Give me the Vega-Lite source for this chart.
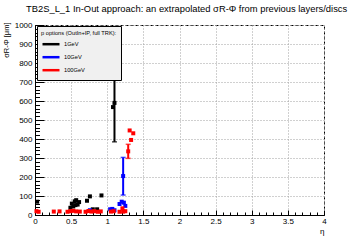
{
  "$schema": "https://vega.github.io/schema/vega-lite/v6.json",
  "width": 289,
  "height": 190,
  "autosize": {"type": "none"},
  "padding": {"left": 35, "top": 25, "right": 36, "bottom": 25},
  "background": "white",
  "config": {
    "font": "Liberation Sans",
    "view": {"stroke": "#000", "strokeDash": [3, 2], "strokeWidth": 1},
    "axis": {
      "domainColor": "#000", "domainWidth": 1, "tickColor": "#000", "tickWidth": 1,
      "labelColor": "#000", "titleColor": "#000", "gridColor": "#a0a0a0", "gridDash": [1, 2],
      "labelFont": "Liberation Sans", "titleFont": "Liberation Sans", "labelFontSize": 8,
      "titleFontWeight": "normal", "labelFlush": false, "labelOverlap": false, "labelBound": false
    }
  },
  "title": {
    "text": "TB2S_L_1 In-Out approach: an extrapolated σR-Φ from previous layers/discs",
    "fontSize": 9.4, "font": "Liberation Sans", "fontWeight": "normal", "color": "#000",
    "anchor": "start", "dx": -9, "offset": 0, "baseline": "alphabetic", "frame": "group"
  },
  "data": {
    "values": [
      {"series": "1GeV", "eta": 0.03, "val": 70},
      {"series": "1GeV", "eta": 0.49, "val": 38},
      {"series": "1GeV", "eta": 0.51, "val": 60},
      {"series": "1GeV", "eta": 0.53, "val": 45},
      {"series": "1GeV", "eta": 0.55, "val": 72},
      {"series": "1GeV", "eta": 0.56, "val": 52},
      {"series": "1GeV", "eta": 0.57, "val": 78},
      {"series": "1GeV", "eta": 0.59, "val": 55},
      {"series": "1GeV", "eta": 0.61, "val": 68},
      {"series": "1GeV", "eta": 0.72, "val": 75},
      {"series": "1GeV", "eta": 0.76, "val": 98},
      {"series": "1GeV", "eta": 0.80, "val": 30},
      {"series": "1GeV", "eta": 0.86, "val": 30},
      {"series": "1GeV", "eta": 0.92, "val": 103},
      {"series": "1GeV", "eta": 1.08, "val": 568},
      {"series": "1GeV", "eta": 1.10, "val": 590, "lo": 385, "hi": 795},
      {"series": "10GeV", "eta": 0.76, "val": 25},
      {"series": "10GeV", "eta": 1.04, "val": 30},
      {"series": "10GeV", "eta": 1.07, "val": 32},
      {"series": "10GeV", "eta": 1.10, "val": 25},
      {"series": "10GeV", "eta": 1.17, "val": 58},
      {"series": "10GeV", "eta": 1.20, "val": 70},
      {"series": "10GeV", "eta": 1.22, "val": 205, "lo": 105, "hi": 303},
      {"series": "10GeV", "eta": 1.23, "val": 65},
      {"series": "10GeV", "eta": 1.25, "val": 48},
      {"series": "100GeV", "eta": 0.02, "val": 20},
      {"series": "100GeV", "eta": 0.05, "val": 17},
      {"series": "100GeV", "eta": 0.26, "val": 18},
      {"series": "100GeV", "eta": 0.34, "val": 19},
      {"series": "100GeV", "eta": 0.45, "val": 17},
      {"series": "100GeV", "eta": 0.49, "val": 20},
      {"series": "100GeV", "eta": 0.53, "val": 22},
      {"series": "100GeV", "eta": 0.57, "val": 19},
      {"series": "100GeV", "eta": 0.62, "val": 18},
      {"series": "100GeV", "eta": 0.70, "val": 17},
      {"series": "100GeV", "eta": 0.74, "val": 21},
      {"series": "100GeV", "eta": 0.78, "val": 18},
      {"series": "100GeV", "eta": 0.82, "val": 20},
      {"series": "100GeV", "eta": 0.87, "val": 17},
      {"series": "100GeV", "eta": 0.91, "val": 19},
      {"series": "100GeV", "eta": 1.05, "val": 18},
      {"series": "100GeV", "eta": 1.09, "val": 20},
      {"series": "100GeV", "eta": 1.17, "val": 17},
      {"series": "100GeV", "eta": 1.21, "val": 35},
      {"series": "100GeV", "eta": 1.22, "val": 18},
      {"series": "100GeV", "eta": 1.25, "val": 20},
      {"series": "100GeV", "eta": 1.29, "val": 335, "lo": 298, "hi": 372},
      {"series": "100GeV", "eta": 1.31, "val": 445},
      {"series": "100GeV", "eta": 1.33, "val": 395},
      {"series": "100GeV", "eta": 1.36, "val": 430}
    ]
  },
  "layer": [
    {
      "transform": [{"filter": "isValid(datum.lo)"}],
      "mark": {"type": "rule", "strokeWidth": 2},
      "encoding": {
        "x": {
          "field": "eta", "type": "quantitative",
          "scale": {"domain": [0, 4], "nice": false, "zero": false},
          "axis": {
            "orient": "bottom", "values": [0, 0.5, 1, 1.5, 2, 2.5, 3, 3.5, 4], "format": "~g",
            "tickSize": -5, "labelPadding": 7, "grid": true, "title": "η", "titleAnchor": "end",
            "titleFontSize": 8, "titlePadding": 2
          }
        },
        "y": {
          "field": "lo", "type": "quantitative",
          "scale": {"domain": [0, 1000], "nice": false},
          "axis": {
            "orient": "left", "values": [0, 100, 200, 300, 400, 500, 600, 700, 800, 900, 1000], "format": "d",
            "tickSize": -9, "labelPadding": 12, "grid": true, "title": "σR-Φ [μm]",
            "titleFontSize": 7.5, "titleAngle": -90, "titleX": -29, "titleY": -3,
            "titleAlign": "right", "titleBaseline": "middle"
          }
        },
        "y2": {"field": "hi"},
        "color": {
          "field": "series", "type": "nominal",
          "scale": {"domain": ["1GeV", "10GeV", "100GeV"], "range": ["#000000", "#0000ff", "#ff0000"]},
          "legend": {
            "orient": "none", "legendX": 2, "legendY": 1, "zindex": 2,
            "title": "p options (OutIn+IP, full TRK):", "titleFontSize": 5.7, "titleFont": "Liberation Sans",
            "titleFontWeight": "normal", "titlePadding": 3, "titleColor": "#000",
            "labelFontSize": 5.7, "labelFont": "Liberation Sans", "labelColor": "#000", "labelOffset": 12,
            "padding": 4, "fillColor": "#f0f0f0", "strokeColor": "#000",
            "symbolType": "M-1,0H3.25", "symbolSize": 64, "symbolStrokeWidth": 2.5, "rowPadding": 2,
            "encode": {"symbols": {"update": {"stroke": {"scale": "color", "field": "value"}, "fill": {"value": "transparent"}}}}
          }
        }
      }
    },
    {
      "transform": [{"filter": "isValid(datum.lo)"}],
      "mark": {"type": "tick", "orient": "horizontal", "size": 5, "thickness": 1.5},
      "encoding": {
        "x": {"field": "eta", "type": "quantitative", "axis": null},
        "y": {"field": "lo", "type": "quantitative", "axis": null},
        "color": {"field": "series", "type": "nominal"}
      }
    },
    {
      "transform": [{"filter": "isValid(datum.lo)"}],
      "mark": {"type": "tick", "orient": "horizontal", "size": 5, "thickness": 1.5},
      "encoding": {
        "x": {"field": "eta", "type": "quantitative", "axis": null},
        "y": {"field": "hi", "type": "quantitative", "axis": null},
        "color": {"field": "series", "type": "nominal"}
      }
    },
    {
      "mark": {"type": "point", "shape": "square", "filled": true, "size": 16, "opacity": 1, "strokeWidth": 0},
      "encoding": {
        "x": {
          "field": "eta", "type": "quantitative",
          "axis": {
            "orient": "bottom",
            "values": [0, 0.1, 0.2, 0.3, 0.4, 0.5, 0.6, 0.7, 0.8, 0.9, 1, 1.1, 1.2, 1.3, 1.4, 1.5, 1.6, 1.7, 1.8, 1.9, 2, 2.1, 2.2, 2.3, 2.4, 2.5, 2.6, 2.7, 2.8, 2.9, 3, 3.1, 3.2, 3.3, 3.4, 3.5, 3.6, 3.7, 3.8, 3.9, 4],
            "tickSize": -3, "labels": false, "grid": false, "domain": false, "title": null
          }
        },
        "y": {
          "field": "val", "type": "quantitative",
          "axis": {
            "orient": "left",
            "values": [0, 20, 40, 60, 80, 100, 120, 140, 160, 180, 200, 220, 240, 260, 280, 300, 320, 340, 360, 380, 400, 420, 440, 460, 480, 500, 520, 540, 560, 580, 600, 620, 640, 660, 680, 700, 720, 740, 760, 780, 800, 820, 840, 860, 880, 900, 920, 940, 960, 980, 1000],
            "tickSize": -4.5, "labels": false, "grid": false, "domain": false, "title": null
          }
        },
        "color": {"field": "series", "type": "nominal"}
      }
    }
  ],
  "resolve": {"axis": {"x": "independent", "y": "independent"}}
}
